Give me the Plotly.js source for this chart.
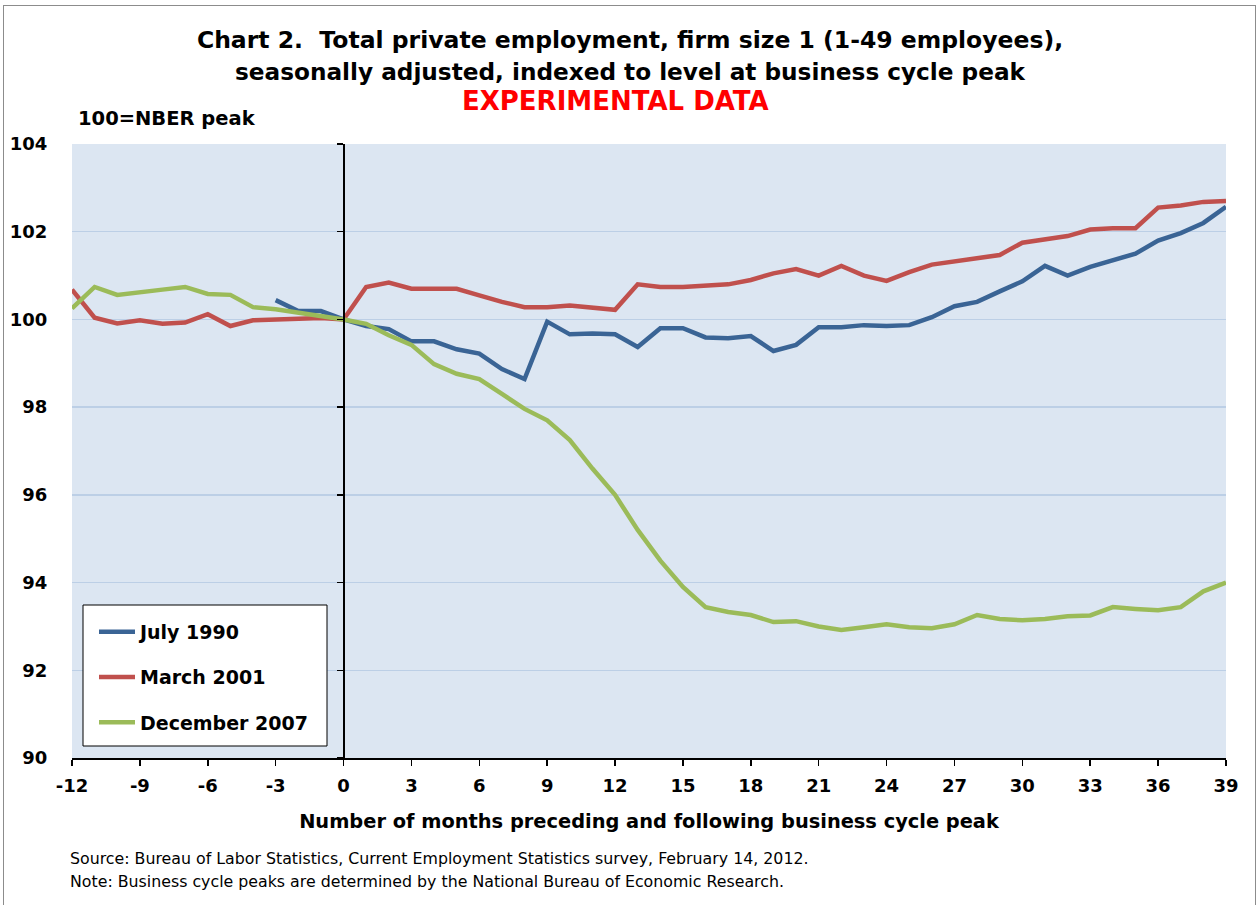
<!DOCTYPE html>
<html>
<head>
<meta charset="utf-8">
<script src="https://cdn.plot.ly/plotly-3.0.1.min.js"></script>
<style>
  html, body { margin:0; padding:0; background:#fff; }
  #wrap { position:relative; width:1258px; height:905px; }
  #chart { position:absolute; left:0; top:0; width:1258px; height:905px; }
  #frame { position:absolute; left:3px; top:5px; width:1251px; height:905px; border:1px solid #8c8c8c; border-bottom:none; pointer-events:none; }
</style>
</head>
<body>
<div id="wrap"><div id="chart"></div><div id="frame"></div></div>
<script>
// Months relative to the business cycle peak
const months = [];
for (let m = -12; m <= 39; m++) months.push(m);

// July 1990 (data begins at month -3)
const july1990Months = months.filter(m => m >= -3);
const july1990 = [100.44, 100.19, 100.19, 100.0,
  99.85, 99.78, 99.50, 99.50, 99.32, 99.22, 98.87, 98.64, 99.95, 99.66,
  99.68, 99.66, 99.37, 99.80, 99.80, 99.59, 99.57, 99.62, 99.28, 99.42,
  99.82, 99.82, 99.87, 99.85, 99.87, 100.05, 100.30, 100.40, 100.64, 100.87,
  101.22, 101.00, 101.20, 101.35, 101.50, 101.80, 101.97, 102.20, 102.57];

// March 2001
const march2001 = [100.68, 100.04, 99.91, 99.98, 99.90, 99.93, 100.12, 99.85, 99.98, 100.00, 100.00, 100.03,
  100.0,
  100.74, 100.84, 100.70, 100.70, 100.70, 100.55, 100.40, 100.28, 100.28, 100.32, 100.26, 100.22,
  100.80, 100.74, 100.74, 100.78, 100.80, 100.90, 101.05, 101.15, 101.00, 101.22, 101.00, 100.88,
  101.08, 101.25, 101.33, 101.40, 101.47, 101.75, 101.83, 101.90, 102.05, 102.08, 102.08, 102.55,
  102.60, 102.68, 102.70];

// December 2007
const december2007 = [100.25, 100.74, 100.56, 100.63, 100.68, 100.74, 100.58, 100.56, 100.28, 100.23, 100.16, 100.07,
  100.0,
  99.90, 99.64, 99.42, 98.98, 98.76, 98.64, 98.30, 97.96, 97.70, 97.25, 96.60, 96.00,
  95.20, 94.50, 93.90, 93.44, 93.33, 93.26, 93.10, 93.12, 93.00, 92.92, 92.98, 93.05,
  92.98, 92.96, 93.05, 93.26, 93.17, 93.14, 93.17, 93.23, 93.25, 93.44, 93.40, 93.37,
  93.44, 93.80, 94.00];

const seriesNames = ['July 1990', 'March 2001', 'December 2007'];
const seriesColors = ['#3A6495', '#C0504D', '#9BBB59'];

const xTicks = [-12, -9, -6, -3, 0, 3, 6, 9, 12, 15, 18, 21, 24, 27, 30, 33, 36, 39];
const yTicks = [90, 92, 94, 96, 98, 100, 102, 104];

const FONT = 'Verdana, "DejaVu Sans", sans-serif';

const traces = [
  {x: july1990Months, y: july1990, name: seriesNames[0], legendgroup: 'a'},
  {x: months, y: march2001, name: seriesNames[1], legendgroup: 'b'},
  {x: months, y: december2007, name: seriesNames[2], legendgroup: 'c'}
].map((t, i) => Object.assign(t, {
  type: 'scatter', mode: 'lines',
  line: {color: seriesColors[i], width: 4.5},
  hoverinfo: 'x+y'
}));

// helper axis drawn at month 0 (vertical line with ticks)
traces.push({x: [], y: [], yaxis: 'y2', showlegend: false, hoverinfo: 'skip', type: 'scatter', mode: 'lines'});

const xMin = -12, xMax = 39;
// pixel -> paper helpers for text placement (plot area: x 72..1226, y 144..758)
const px = v => (v - 72) / 1154;
const py = v => (758 - v) / 614;

const layout = {
  width: 1258, height: 905,
  paper_bgcolor: 'rgba(0,0,0,0)',
  plot_bgcolor: '#DCE6F2',
  margin: {l: 72, r: 32, t: 144, b: 147},
  font: {family: FONT, color: '#000'},
  title: {
    text: '<b>Chart 2.  Total private employment, firm size 1 (1-49 employees),</b>',
    font: {family: FONT, size: 23.5, color: '#000'},
    x: 630/1258, xref: 'container', xanchor: 'center',
    y: 1 - 40/905, yref: 'container', yanchor: 'middle'
  },
  showlegend: true,
  legend: {
    x: px(94), y: py(613), xanchor: 'left', yanchor: 'top',
    bgcolor: 'rgba(0,0,0,0)', borderwidth: 0,
    font: {family: FONT, size: 19, color: '#000', weight: 'bold'},
    tracegroupgap: 17.5,
    itemwidth: 36
  },
  xaxis: {
    range: [xMin, xMax],
    tickvals: xTicks,
    ticktext: xTicks.map(String),
    tickfont: {family: FONT, size: 18, color: '#000', weight: 'bold'},
    ticks: 'outside', ticklen: 6, tickwidth: 1.5, tickcolor: '#000',
    ticklabelstandoff: 4,
    showline: true, linecolor: '#000', linewidth: 2,
    showgrid: false, zeroline: false,
    title: {text: '<b>Number of months preceding and following business cycle peak</b>',
            font: {family: FONT, size: 19.4, color: '#000'}, standoff: 20},
    fixedrange: true
  },
  yaxis: {
    range: [90, 104],
    tickvals: yTicks,
    tickfont: {family: FONT, size: 18, color: '#000', weight: 'bold'},
    ticks: 'outside', ticklen: 20, tickcolor: 'rgba(0,0,0,0)',
    showline: false,
    showgrid: true, gridcolor: '#BCCFE6', gridwidth: 1.3,
    zeroline: false,
    fixedrange: true
  },
  yaxis2: {
    range: [90, 104],
    overlaying: 'y', anchor: 'free', side: 'left',
    position: (0 - xMin) / (xMax - xMin),
    tickvals: yTicks,
    showticklabels: false,
    ticks: 'outside', ticklen: 6, tickwidth: 1.5, tickcolor: '#000',
    showline: true, linecolor: '#000', linewidth: 2,
    showgrid: false, zeroline: false,
    fixedrange: true
  },
  shapes: [
    {type: 'rect', xref: 'paper', yref: 'paper',
     x0: px(83), x1: px(327), y0: py(746), y1: py(605),
     fillcolor: '#FFFFFF', line: {color: '#000', width: 1}, layer: 'above'}
  ],
  annotations: [
    {text: '<b>seasonally adjusted, indexed to level at business cycle peak</b>', xref: 'paper', yref: 'paper',
     x: px(630), y: py(72), xanchor: 'center', yanchor: 'middle', showarrow: false,
     font: {family: FONT, size: 23.2, color: '#000'}},
    {text: '<b>EXPERIMENTAL DATA</b>', xref: 'paper', yref: 'paper', x: px(615), y: py(101),
     xanchor: 'center', yanchor: 'middle', showarrow: false,
     font: {family: FONT, size: 26, color: '#FF0000'}},
    {text: '<b>100=NBER peak</b>', xref: 'paper', yref: 'paper', x: px(76), y: py(119),
     xanchor: 'left', yanchor: 'middle', showarrow: false,
     font: {family: FONT, size: 19.5, color: '#000'}},
    {text: 'Source: Bureau of Labor Statistics, Current Employment Statistics survey, February 14, 2012.',
     xref: 'paper', yref: 'paper', x: px(68), y: py(858),
     xanchor: 'left', yanchor: 'middle', showarrow: false,
     font: {family: FONT, size: 15.8, color: '#000'}},
    {text: 'Note: Business cycle peaks are determined by the National Bureau of Economic Research.',
     xref: 'paper', yref: 'paper', x: px(68), y: py(881),
     xanchor: 'left', yanchor: 'middle', showarrow: false,
     font: {family: FONT, size: 15.8, color: '#000'}}
  ]
};

Plotly.newPlot('chart', traces, layout, {displayModeBar: false, staticPlot: true});
</script>
</body>
</html>
